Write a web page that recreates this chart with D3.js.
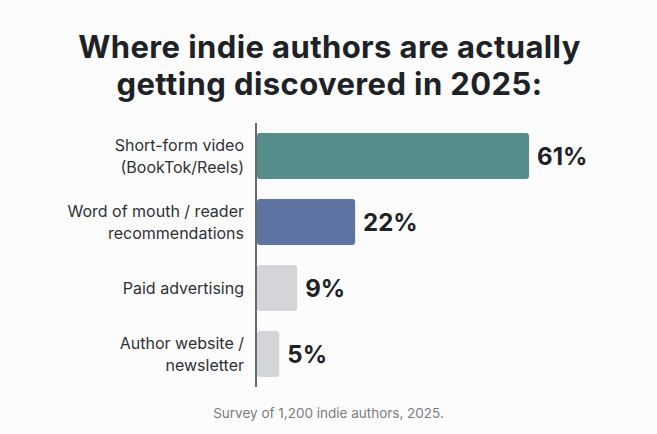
<!DOCTYPE html>
<html>
<head>
<meta charset="utf-8">
<script src="https://cdn.jsdelivr.net/npm/d3@7"></script>
<style>
  body { margin: 0; background: #fcfcfc; }
  svg { display: block; font-family: Inter, "Noto Sans", sans-serif; }
</style>
</head>
<body>
<div id="chart"></div>
<script>
// data
const categories = [
  ["Short-form video", "(BookTok/Reels)"],
  ["Word of mouth / reader", "recommendations"],
  ["Paid advertising"],
  ["Author website /", "newsletter"]
];
const shares = [61, 22, 9, 5];
const barColors = ["#558e8a", "#5f73a3", "#d4d5d9", "#d4d5d9"];
const titleLines = ["Where indie authors are actually", "getting discovered in 2025:"];
const footnote = "Survey of 1,200 indie authors, 2025.";

const width = 657, height = 434;
const axisX = 256;

const rows = categories.map((c, i) => ({ key: i, label: c, value: shares[i], color: barColors[i] }));

const svg = d3.select("#chart")
  .append("svg")
  .attr("width", width)
  .attr("height", height);

svg.append("rect")
  .attr("width", width)
  .attr("height", height)
  .attr("fill", "#fcfcfc");

// title
svg.append("g")
  .selectAll("text")
  .data(titleLines)
  .join("text")
  .attr("x", width / 2 + 1)
  .attr("y", (d, i) => 58 + i * 37)
  .attr("text-anchor", "middle")
  .attr("font-size", 31)
  .attr("font-weight", 700)
  .attr("letter-spacing", "0.4px")
  .attr("fill", "#1d2226")
  .text(d => d);

const x = d3.scaleLinear()
  .domain([0, 100])
  .range([0, 446]);

const y = d3.scaleBand()
  .domain(rows.map(d => d.key))
  .range([123, 387])
  .paddingInner(0.303)
  .paddingOuter(0.15);

const chart = svg.append("g");

chart.selectAll("rect.bar")
  .data(rows)
  .join("rect")
  .attr("class", "bar")
  .attr("x", axisX + 1)
  .attr("y", d => y(d.key))
  .attr("width", d => x(d.value))
  .attr("height", y.bandwidth())
  .attr("rx", 3)
  .attr("fill", d => d.color);

// vertical axis line
chart.append("line")
  .attr("x1", axisX).attr("x2", axisX)
  .attr("y1", 123).attr("y2", 387)
  .attr("stroke", "#33383c")
  .attr("stroke-width", 1.5);

// category labels
const labels = chart.selectAll("text.cat")
  .data(rows)
  .join("text")
  .attr("class", "cat")
  .attr("text-anchor", "end")
  .attr("font-size", 16)
  .attr("fill", "#2e3236");

labels.selectAll("tspan")
  .data(d => d.label.map((t, i) => ({ t, i, n: d.label.length, d })))
  .join("tspan")
  .attr("x", 244)
  .attr("y", o => y(o.d.key) + y.bandwidth() / 2 + (o.i - (o.n - 1) / 2) * 22)
  .attr("dy", "0.35em")
  .text(o => o.t);

// value labels
chart.selectAll("text.val")
  .data(rows)
  .join("text")
  .attr("class", "val")
  .attr("x", d => axisX + 1 + x(d.value) + 8)
  .attr("y", d => y(d.key) + y.bandwidth() / 2)
  .attr("dy", "0.36em")
  .attr("font-size", 24)
  .attr("font-weight", 700)
  .attr("fill", "#1d2226")
  .text(d => d.value + "%");

svg.append("text")
  .attr("x", width / 2)
  .attr("y", 418)
  .attr("text-anchor", "middle")
  .attr("font-size", 13.5)
  .attr("fill", "#7a7d80")
  .text(footnote);
</script>
</body>
</html>
